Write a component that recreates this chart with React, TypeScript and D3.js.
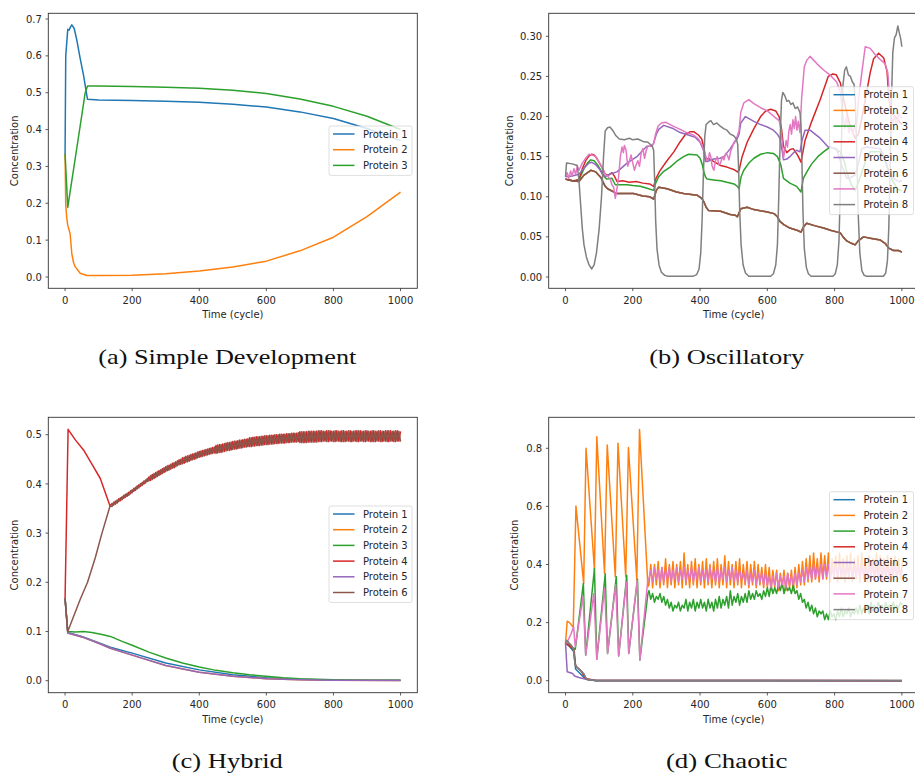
import * as d3 from 'd3';

type Pt = [number, number];

const COLORS = ['#1f77b4', '#ff7f0e', '#2ca02c', '#d62728', '#9467bd', '#8c564b', '#e377c2', '#7f7f7f'];
const PROTEINS = ['Protein 1', 'Protein 2', 'Protein 3', 'Protein 4', 'Protein 5', 'Protein 6', 'Protein 7', 'Protein 8'];

// (a) Simple Development
const simpleP1: Pt[] = [[0, .334], [2, .6], [8, .672], [12, .67], [16, .678], [20, .684], [27, .675], [35, .643], [45, .593], [55, .548], [63, .503], [67, .482], [100, .48], [200, .479], [300, .477], [400, .474], [500, .469], [600, .461], [700, .448], [800, .43], [900, .403], [1000, .37]];
const simpleP2: Pt[] = [[0, .334], [2, .195], [5, .16], [8, .14], [15, .118], [20, .064], [25, .04], [30, .028], [45, .01], [65, .004], [100, .004], [200, .005], [300, .009], [400, .016], [500, .027], [600, .043], [700, .071], [800, .108], [900, .164], [1000, .23]];
const simpleP3: Pt[] = [[0, .334], [8, .189], [20, .261], [35, .35], [50, .44], [60, .5], [67, .518], [100, .518], [200, .517], [300, .515], [400, .512], [500, .507], [600, .498], [700, .483], [800, .463], [900, .436], [1000, .40]];

// (b) Oscillatory
const oscP3: Pt[] = [[0, .122], [20, .12], [40, .121], [55, .135], [65, .142], [75, .146], [85, .145], [95, .14], [105, .133], [115, .125], [123, .122], [138, .123], [143, .119], [148, .115], [170, .115], [183, .115], [200, .114], [222, .113], [240, .111], [262, .108], [268, .117], [277, .125], [290, .131], [311, .137], [330, .144], [351, .15], [366, .153], [391, .152], [400, .148], [406, .141], [412, .13], [416, .125], [421, .122], [440, .121], [461, .12], [480, .118], [501, .116], [511, .113], [516, .11], [522, .125], [530, .133], [545, .142], [560, .148], [580, .153], [600, .155], [618, .154], [630, .15], [640, .14], [648, .123], [667, .117], [687, .113], [700, .106], [707, .123], [720, .133], [732, .141], [750, .15], [767, .156], [786, .162], [800, .16], [817, .156], [828, .145], [836, .131], [850, .115], [861, .108], [871, .118], [881, .131], [895, .148], [906, .156], [936, .156], [950, .145], [961, .131], [975, .118], [986, .11], [1000, .107]];
const oscP4: Pt[] = [[0, .122], [10, .121], [20, .12], [30, .12], [40, .122], [50, .135], [60, .145], [70, .151], [78, .153], [85, .152], [93, .148], [100, .143], [108, .137], [118, .128], [128, .127], [138, .13], [145, .126], [153, .119], [170, .12], [190, .118], [210, .119], [230, .117], [250, .116], [262, .113], [268, .122], [280, .132], [300, .144], [322, .156], [340, .168], [357, .178], [370, .181], [382, .181], [395, .177], [405, .172], [412, .16], [417, .146], [425, .148], [440, .144], [461, .139], [480, .137], [500, .134], [511, .131], [516, .133], [525, .15], [540, .168], [560, .185], [580, .2], [595, .207], [610, .209], [625, .207], [635, .2], [642, .185], [648, .163], [658, .155], [668, .159], [677, .16], [690, .152], [697, .146], [700, .143], [712, .17], [732, .194], [757, .221], [781, .25], [795, .253], [805, .252], [817, .242], [831, .214], [846, .188], [861, .173], [871, .178], [884, .205], [896, .232], [906, .255], [916, .272], [931, .279], [946, .273], [956, .256], [961, .224], [968, .205], [980, .2], [990, .195], [1000, .19]];
const oscP5: Pt[] = [[0, .125], [20, .126], [40, .128], [55, .136], [70, .142], [78, .143], [90, .14], [100, .135], [110, .128], [118, .125], [130, .128], [153, .131], [183, .142], [212, .15], [230, .158], [242, .163], [257, .163], [262, .167], [270, .178], [277, .184], [292, .189], [320, .185], [341, .18], [365, .177], [386, .174], [400, .168], [410, .158], [416, .144], [421, .144], [440, .147], [460, .148], [471, .15], [490, .16], [501, .167], [511, .173], [516, .178], [521, .192], [535, .2], [560, .194], [580, .19], [600, .187], [618, .183], [630, .178], [638, .172], [645, .155], [648, .146], [658, .147], [667, .15], [678, .155], [687, .158], [697, .156], [703, .17], [712, .183], [727, .183], [757, .173], [781, .162], [806, .16], [820, .14], [836, .123], [848, .124], [861, .127], [870, .14], [881, .16], [896, .162], [936, .16], [950, .148], [961, .131], [975, .123], [991, .119], [1000, .12]];
const oscP6: Pt[] = [[0, .122], [20, .12], [40, .119], [55, .127], [75, .133], [90, .131], [105, .124], [118, .113], [125, .11], [153, .104], [175, .104], [202, .104], [230, .101], [250, .1], [262, .097], [270, .108], [277, .112], [302, .11], [330, .106], [351, .104], [391, .102], [405, .098], [411, .094], [418, .087], [425, .083], [461, .082], [490, .078], [505, .077], [511, .075], [521, .085], [540, .087], [560, .084], [600, .081], [620, .079], [630, .075], [638, .069], [650, .065], [667, .061], [690, .058], [700, .056], [707, .062], [717, .067], [740, .064], [767, .061], [790, .058], [817, .055], [825, .05], [836, .045], [850, .042], [861, .04], [870, .045], [886, .05], [910, .048], [936, .046], [950, .042], [961, .036], [975, .033], [990, .033], [1000, .031]];
const oscP7: Pt[] = [[0, .125], [5, .13], [10, .123], [15, .132], [20, .126], [25, .135], [30, .128], [35, .138], [40, .133], [50, .142], [60, .148], [70, .153], [80, .152], [90, .15], [100, .143], [110, .135], [118, .128], [125, .126], [133, .122], [138, .115], [143, .112], [148, .098], [153, .11], [158, .125], [163, .15], [168, .162], [172, .155], [175, .164], [180, .158], [185, .138], [190, .145], [195, .152], [200, .142], [205, .133], [210, .14], [215, .145], [220, .138], [225, .155], [230, .16], [235, .148], [240, .158], [245, .163], [252, .163], [258, .165], [262, .166], [267, .177], [275, .188], [285, .192], [297, .193], [320, .188], [341, .184], [360, .18], [381, .177], [395, .172], [405, .165], [416, .152], [421, .145], [425, .147], [428, .155], [432, .15], [436, .138], [441, .133], [446, .145], [451, .15], [456, .14], [461, .142], [466, .15], [471, .146], [476, .154], [481, .152], [486, .146], [491, .157], [496, .162], [501, .168], [506, .171], [511, .176], [516, .183], [521, .205], [530, .217], [545, .221], [560, .216], [580, .211], [600, .207], [620, .2], [635, .195], [640, .185], [645, .165], [648, .148], [652, .158], [656, .17], [660, .162], [664, .182], [668, .19], [672, .178], [676, .196], [680, .185], [684, .2], [688, .183], [692, .194], [697, .18], [702, .223], [710, .262], [717, .27], [727, .275], [747, .266], [767, .258], [786, .252], [806, .243], [817, .231], [825, .2], [830, .185], [836, .2], [842, .18], [848, .19], [855, .178], [861, .192], [866, .19], [872, .225], [881, .255], [891, .287], [906, .285], [921, .277], [936, .271], [950, .266], [958, .255], [966, .21], [972, .19], [978, .2], [984, .188], [990, .205], [995, .2], [1000, .198]];
const oscP8: Pt[] = [[0, .125], [3, .142], [20, .141], [35, .139], [40, .12], [45, .09], [50, .06], [55, .04], [62, .025], [70, .015], [78, .01], [85, .015], [92, .03], [100, .06], [107, .1], [113, .15], [118, .182], [125, .186], [132, .187], [140, .183], [150, .176], [160, .172], [175, .171], [190, .173], [200, .171], [215, .172], [230, .169], [245, .168], [258, .163], [262, .158], [265, .12], [268, .07], [272, .035], [278, .015], [285, .006], [295, .002], [305, .001], [380, .001], [390, .003], [397, .01], [402, .03], [406, .07], [410, .13], [414, .175], [418, .19], [425, .193], [432, .195], [440, .19], [450, .192], [460, .188], [470, .185], [480, .183], [490, .178], [500, .176], [508, .172], [512, .165], [515, .13], [518, .08], [522, .04], [528, .015], [535, .005], [545, .001], [610, .001], [618, .004], [625, .015], [630, .04], [634, .1], [638, .17], [642, .22], [646, .23], [652, .226], [658, .219], [664, .22], [670, .215], [676, .217], [683, .21], [690, .212], [697, .205], [700, .19], [703, .14], [706, .08], [710, .035], [716, .012], [722, .004], [730, .001], [795, .001], [802, .004], [808, .015], [813, .045], [817, .11], [821, .18], [825, .24], [830, .258], [835, .262], [841, .252], [847, .25], [853, .243], [858, .24], [862, .215], [866, .15], [870, .08], [875, .03], [881, .008], [888, .002], [895, .001], [945, .001], [952, .005], [957, .02], [961, .06], [965, .13], [969, .22], [973, .28], [978, .298], [983, .302], [988, .313], [992, .305], [996, .298], [1000, .287]];
// proteins 1 and 2 are hidden under protein 6
const oscP1 = oscP6;
const oscP2 = oscP6;

// (c) Hybrid
const hybP1: Pt[] = [[0, .167], [8, .098], [50, .09], [100, .077], [135, .068], [200, .056], [300, .036], [400, .022], [500, .012], [600, .006], [700, .003], [800, .001], [1000, .001]];
const hybP2: Pt[] = [[0, .167], [8, .097], [50, .089], [100, .076], [135, .066], [200, .052], [300, .031], [400, .017], [500, .009], [600, .004], [700, .002], [800, .001], [1000, .0005]];
const hybP3: Pt[] = [[0, .167], [8, .1], [30, .099], [55, .1], [80, .098], [110, .094], [135, .09], [170, .08], [200, .072], [250, .058], [300, .046], [350, .036], [400, .028], [450, .021], [500, .016], [550, .012], [600, .009], [650, .006], [700, .004], [800, .002], [900, .001], [1000, .001]];
const hybP5: Pt[] = [[0, .167], [8, .097], [50, .089], [100, .076], [135, .066], [200, .052], [300, .031], [400, .017], [500, .009], [600, .004], [700, .002], [800, .001], [1000, .0005]];
const hybP4Head: Pt[] = [[0, .167], [9, .511], [30, .49], [55, .469], [80, .44], [105, .411], [134, .355]];
const hybP6Head: Pt[] = [[0, .167], [8, .1], [25, .13], [45, .165], [67, .2], [90, .25], [110, .3], [134, .355]];
// sampled every 5 cycles from t = 140
const hybTailStart = 140;
const hybTailStep = 5;
const hybP4Tail = [
  .360, .357, .365, .361, .370, .366, .374, .371, .379, .375, .383, .380, .388, .385, .393, .390, .398, .395, .403, .400,
  .408, .405, .414, .407, .419, .411, .423, .415, .427, .419, .431, .423, .435, .427, .438, .430, .442, .433, .445, .437,
  .449, .440, .453, .442, .456, .445, .458, .448, .461, .450, .463, .453, .466, .455, .468, .457, .470, .459, .472, .461,
  .474, .463, .478, .463, .480, .464, .481, .466, .483, .468, .484, .469, .486, .471, .487, .472, .489, .473, .490, .475,
  .491, .476, .494, .476, .495, .477, .496, .478, .496, .479, .497, .480, .498, .480, .499, .481, .499, .482, .500, .482,
  .501, .483, .501, .483, .502, .484, .502, .485, .503, .485, .503, .486, .506, .484, .506, .484, .506, .485, .507, .485,
  .507, .485, .507,
  .486, .508, .486, .507, .487, .508, .486, .508, .487, .507, .486, .508, .487, .507, .486, .508, .486, .507, .487, .508,
  .486, .507, .487, .508, .486, .508, .487, .507, .486, .508, .487, .507, .486, .508, .486, .507, .487, .508, .486, .507,
  .487, .508, .486, .508, .487, .507, .486, .508, .487, .507,
];
const hybP6Tail = [
  .354, .363, .359, .367, .364, .372, .368, .377, .373, .381, .377, .386, .382, .391, .387, .396, .392, .401, .397, .406,
  .402, .411, .406, .417, .409, .421, .413, .425, .417, .429, .421, .433, .425, .437, .428, .440, .432, .443, .435, .447,
  .439, .450, .441, .454, .444, .457, .446, .460, .449, .462, .451, .465, .454, .467, .456, .469, .458, .471, .460, .473,
  .462, .475, .462, .479, .464, .480, .465, .482, .467, .484, .468, .485, .470, .487, .471, .488, .473, .489, .474, .491,
  .475, .492, .476, .494, .477, .495, .478, .496, .478, .497, .479, .498, .480, .498, .481, .499, .481, .500, .482, .500,
  .483, .501, .483, .501, .484, .502, .484, .503, .485, .503, .485, .504, .484, .506, .484, .506, .484, .507, .485, .507,
  .485, .507, .485,
  .508, .486, .508, .487, .507, .486, .508, .487, .507, .486, .508, .487, .507, .486, .508, .486, .507, .487, .508, .486,
  .507, .487, .508, .486, .508, .487, .507, .486, .508, .487, .507, .486, .508, .486, .507, .487, .508, .486, .507, .487,
  .508, .486, .508, .487, .507, .486, .508, .487, .507, .486,
];

// (d) Chaotic
const chaP1: Pt[] = [[0, .129], [10, .12], [25, .1], [30, .04], [60, .005], [90, 0], [1000, 0]];
const chaP4: Pt[] = [[0, .129], [6, .125], [14, .118], [22, .11], [26, .1], [30, .05], [45, .035], [60, .008], [90, .001], [1000, 0]];
const chaP5: Pt[] = [[0, .129], [5, .031], [21, .025], [27, .016], [40, .011], [58, .006], [90, .001], [1000, 0]];
const chaP6: Pt[] = [[0, .129], [4, .138], [10, .13], [18, .12], [24, .108], [28, .06], [32, .048], [45, .035], [55, .022], [60, .01], [65, .004], [90, .001], [1000, .001]];
const chaP8: Pt[] = [[0, .129], [4, .138], [10, .13], [18, .12], [24, .108], [28, .06], [32, .048], [45, .035], [55, .022], [60, .01], [65, .004], [90, .001], [1000, .001]];
const chaP2Head: Pt[] = [[0, .129], [5, .205], [12, .2], [20, .188], [23, .185], [31, .601], [54, .335], [61, .8], [86, .381], [93, .84], [116, .37], [124, .811], [148, .358], [156, .817], [179, .358], [187, .803], [212, .347], [220, .865], [245, .324]];
const chaP3Head: Pt[] = [[0, .129], [10, .122], [20, .115], [29, .108], [53, .335], [60, .088], [86, .386], [93, .074], [118, .368], [125, .094], [151, .358], [158, .085], [182, .363], [188, .094], [214, .349], [221, .071], [245, .3]];
const chaP7Head: Pt[] = [[0, .129], [8, .14], [16, .16], [24, .186], [29, .117], [52, .29], [60, .088], [84, .3], [93, .074], [116, .318], [125, .094], [149, .33], [158, .085], [181, .34], [188, .094], [213, .345], [221, .071], [245, .35]];
// sampled every 5.5 cycles from t = 248
const chaTailStart = 248;
const chaTailStep = 5.5;
const chaP2Tail = [
  .33, .40, .32, .40, .33, .41, .32, .39, .33, .42, .32, .40, .33, .41, .32, .40,
  .33, .41, .32, .44, .33, .40, .32, .41, .33, .42, .32, .40, .33, .41, .32, .42,
  .33, .40, .32, .41, .33, .42, .32, .40, .33, .43, .32, .41, .33, .40, .32, .41,
  .33, .42, .32, .40, .33, .41, .32, .40, .33, .41, .32, .40, .33, .39, .32, .40,
  .32, .39, .31, .38, .32, .38, .31, .37, .32, .38, .31, .37, .32, .38, .31, .39,
  .32, .40, .33, .41, .33, .42, .34, .43, .34, .44, .35, .42, .34, .44, .35, .43,
  .35, .44, .34, .42, .35, .43, .34, .44, .35, .42, .34, .43, .35, .44, .34, .42,
  .35, .43, .34, .44, .35, .42, .34, .43, .35, .42, .34, .44, .35, .43, .34, .42,
  .35, .43, .34, .42, .35, .43, .34, .42, .35, .41,
];
const chaP3Tail = [
  .31, .28, .30, .27, .29, .28, .30, .27, .29, .26, .28, .25, .27, .24, .26, .25,
  .27, .24, .26, .25, .28, .24, .27, .25, .28, .24, .27, .25, .28, .25, .27, .24,
  .28, .25, .27, .24, .28, .25, .29, .25, .28, .26, .29, .25, .31, .26, .29, .27,
  .30, .26, .29, .27, .30, .27, .31, .28, .30, .28, .31, .29, .30, .28, .31, .29,
  .32, .29, .33, .30, .32, .30, .33, .31, .34, .30, .33, .31, .32, .30, .33, .30,
  .31, .28, .30, .27, .28, .25, .27, .24, .26, .23, .25, .22, .24, .23, .24, .21,
  .23, .21, .24, .22, .23, .21, .24, .22, .25, .22, .24, .23, .25, .22, .24, .23,
  .25, .23, .26, .23, .25, .24, .26, .23, .27, .24, .26, .24, .27, .25, .26, .24,
  .27, .25, .26, .24, .27, .25, .26, .25, .27, .26,
];
const chaP7Tail = [
  .35, .38, .34, .39, .35, .38, .34, .39, .34, .38, .35, .39, .34, .38, .35, .39,
  .34, .38, .35, .39, .34, .38, .35, .39, .34, .38, .35, .39, .34, .38, .35, .38,
  .34, .39, .35, .38, .34, .39, .34, .38, .35, .39, .34, .38, .35, .39, .34, .38,
  .34, .38, .35, .37, .34, .38, .33, .37, .34, .38, .33, .37, .34, .37, .33, .37,
  .33, .36, .32, .36, .33, .37, .32, .36, .33, .36, .32, .37, .33, .36, .33, .37,
  .33, .37, .34, .38, .34, .39, .35, .39, .35, .40, .35, .39, .36, .40, .35, .40,
  .36, .40, .35, .39, .36, .40, .35, .40, .36, .39, .35, .40, .36, .40, .35, .39,
  .36, .40, .35, .40, .36, .39, .35, .40, .36, .40, .35, .39, .36, .40, .35, .40,
  .36, .39, .35, .40, .36, .40, .35, .39, .36, .38,
];

const withTail = (head: Pt[], start: number, step: number, tail: number[]): Pt[] =>
  head.concat(tail.map((v, i) => [start + i * step, v] as Pt));

const hybP4 = withTail(hybP4Head, hybTailStart, hybTailStep, hybP4Tail);
const hybP6 = withTail(hybP6Head, hybTailStart, hybTailStep, hybP6Tail);
const chaP2 = withTail(chaP2Head, chaTailStart, chaTailStep, chaP2Tail);
const chaP3 = withTail(chaP3Head, chaTailStart, chaTailStep, chaP3Tail);
const chaP7 = withTail(chaP7Head, chaTailStart, chaTailStep, chaP7Tail);

const panels = [
  {
    id: 'a', caption: '(a) Simple Development', capWidth: 258,
    left: 48.3, top: 13.3, width: 369, height: 275,
    yDomain: [-0.0307, 0.7155], yTicks: [0, .1, .2, .3, .4, .5, .6, .7], fmt: '.1f', ylabOff: 34.1,
    series: [simpleP1, simpleP2, simpleP3],
    legend: { x: 329, y: 126, w: 83 },
  },
  {
    id: 'b', caption: '(b) Oscillatory', capWidth: 155,
    left: 548.7, top: 13.3, width: 370, height: 275,
    yDomain: [-0.0141, 0.3287], yTicks: [0, .05, .1, .15, .2, .25, .3], fmt: '.2f', ylabOff: 39.7,
    series: [oscP1, oscP2, oscP3, oscP4, oscP5, oscP6, oscP7, oscP8],
    legend: { x: 829.5, y: 86.7, w: 84 },
  },
  {
    id: 'c', caption: '(c) Hybrid', capWidth: 111,
    left: 48.3, top: 417.3, width: 369, height: 275.4,
    yDomain: [-0.0244, 0.5354], yTicks: [0, .1, .2, .3, .4, .5], fmt: '.1f', ylabOff: 34.1,
    series: [hybP1, hybP2, hybP3, hybP4, hybP5, hybP6],
    legend: { x: 329, y: 506, w: 83 },
  },
  {
    id: 'd', caption: '(d) Chaotic', capWidth: 121.6,
    left: 548.7, top: 417.3, width: 370, height: 275.4,
    yDomain: [-0.0413, 0.9067], yTicks: [0, .2, .4, .6, .8], fmt: '.1f', ylabOff: 34.5,
    series: [chaP1, chaP2, chaP3, chaP4, chaP5, chaP6, chaP7, chaP8],
    legend: { x: 829.5, y: 491.7, w: 84 },
  },
];

const xTicks = [0, 200, 400, 600, 800, 1000];
const FONT = '"DejaVu Sans", sans-serif';
const INK = '#262626';

function Panel({ p }: { p: (typeof panels)[number] }) {
  const x = d3.scaleLinear().domain([-50, 1050]).range([p.left, p.left + p.width]);
  const y = d3.scaleLinear().domain(p.yDomain).range([p.top + p.height, p.top]);
  const line = d3.line<Pt>().x((d) => x(d[0])).y((d) => y(d[1]));
  const fmt = d3.format(p.fmt);
  const bottom = p.top + p.height;
  const rowH = 15.7;
  const n = p.series.length;
  const legH = 8 + (n - 1) * rowH + 10;
  return (
    <g>
      <clipPath id={`clip-${p.id}`}>
        <rect x={p.left} y={p.top} width={p.width} height={p.height} />
      </clipPath>
      <g clipPath={`url(#clip-${p.id})`}>
        {p.series.map((s, i) => (
          <path key={i} d={line(s) || ''} fill="none" stroke={COLORS[i]} strokeWidth={1.5} strokeLinejoin="round" />
        ))}
      </g>
      <rect x={p.left} y={p.top} width={p.width} height={p.height} fill="none" stroke="#333" strokeWidth={0.9} />
      {p.yTicks.map((t) => (
        <g key={t}>
          <line x1={p.left - 2.8} x2={p.left} y1={y(t)} y2={y(t)} stroke="#333" strokeWidth={0.8} />
          <text x={p.left - 6.5} y={y(t) + 3.6} textAnchor="end" fontSize={10} fontFamily={FONT} fill={INK}>
            {fmt(t)}
          </text>
        </g>
      ))}
      {xTicks.map((t) => (
        <g key={t}>
          <line x1={x(t)} x2={x(t)} y1={bottom} y2={bottom + 2.8} stroke="#333" strokeWidth={0.8} />
          <text x={x(t)} y={bottom + 15.6} textAnchor="middle" fontSize={10} fontFamily={FONT} fill={INK}>
            {t}
          </text>
        </g>
      ))}
      <text x={p.left + p.width / 2} y={bottom + 29.8} textAnchor="middle" fontSize={10} fontFamily={FONT} fill={INK}>
        Time (cycle)
      </text>
      <text
        transform={`translate(${p.left - p.ylabOff},${p.top + p.height / 2}) rotate(-90)`}
        textAnchor="middle"
        dominantBaseline="central"
        fontSize={10}
        fontFamily={FONT}
        fill={INK}
      >
        Concentration
      </text>
      <g>
        <rect x={p.legend.x} y={p.legend.y} width={p.legend.w} height={legH} rx={2} fill="#fff" fillOpacity={0.8} stroke="#cccccc" strokeOpacity={0.8} strokeWidth={0.8} />
        {p.series.map((_, i) => {
          const cy = p.legend.y + 8 + i * rowH;
          return (
            <g key={i}>
              <line x1={p.legend.x + 4} x2={p.legend.x + 25.5} y1={cy} y2={cy} stroke={COLORS[i]} strokeWidth={1.5} />
              <text x={p.legend.x + 34} y={cy + 3.6} fontSize={10} fontFamily={FONT} fill={INK}>
                {PROTEINS[i]}
              </text>
            </g>
          );
        })}
      </g>
      <text
        x={p.left + 184.5 - (p.left > 300 ? 6.5 : 5.5)}
        y={bottom + 75.3}
        textAnchor="middle"
        fontSize={21.5}
        fontFamily='"Liberation Serif", serif'
        fill="#111"
        textLength={p.capWidth}
        lengthAdjust="spacingAndGlyphs"
      >
        {p.caption}
      </text>
    </g>
  );
}

export default function App() {
  return (
    <svg width={915} height={774} style={{ position: 'absolute', left: 0, top: 0, background: '#fff' }}>
      <rect width={915} height={774} fill="#fff" />
      {panels.map((p) => (
        <Panel key={p.id} p={p} />
      ))}
    </svg>
  );
}
